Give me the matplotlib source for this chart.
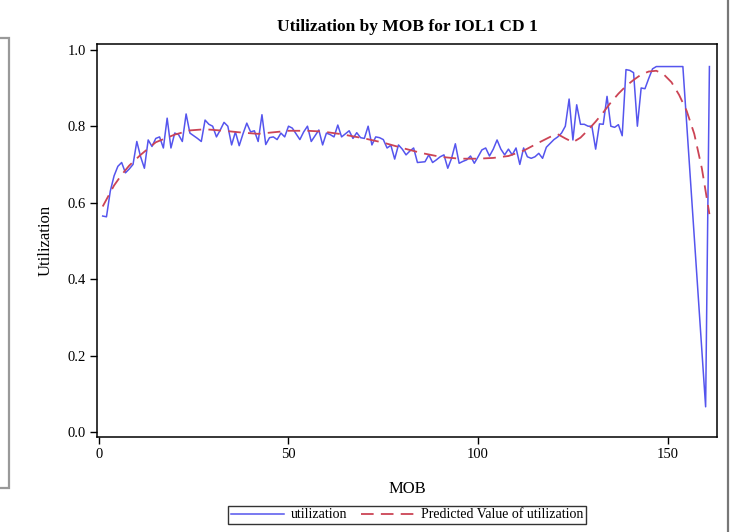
import matplotlib
matplotlib.use("Agg")
import matplotlib.pyplot as plt
from matplotlib.patches import Rectangle
from matplotlib.lines import Line2D

# observed utilization by MOB
mob = list(range(1, 155)) + [160, 161]
utilization = [
    0.565, 0.563, 0.63, 0.67, 0.695, 0.705, 0.678, 0.688, 0.70, 0.76,
    0.72, 0.69, 0.764, 0.747, 0.768, 0.772, 0.743, 0.821, 0.743, 0.782,
    0.778, 0.76, 0.832, 0.782, 0.775, 0.768, 0.76, 0.816, 0.805, 0.80,
    0.772, 0.79, 0.81, 0.80, 0.751, 0.785, 0.749, 0.78, 0.808, 0.785,
    0.788, 0.76, 0.83, 0.752, 0.77, 0.772, 0.765, 0.782, 0.772, 0.80,
    0.795, 0.78, 0.765, 0.785, 0.80, 0.76, 0.775, 0.79, 0.751, 0.782,
    0.778, 0.772, 0.803, 0.772, 0.78, 0.788, 0.768, 0.783, 0.77, 0.768,
    0.80, 0.751, 0.772, 0.77, 0.765, 0.743, 0.75, 0.714, 0.751, 0.74,
    0.725, 0.735, 0.743, 0.705, 0.706, 0.707, 0.725, 0.705, 0.712, 0.72,
    0.725, 0.69, 0.716, 0.754, 0.703, 0.708, 0.712, 0.722, 0.703, 0.72,
    0.738, 0.743, 0.722, 0.74, 0.764, 0.74, 0.725, 0.74, 0.725, 0.743,
    0.70, 0.743, 0.72, 0.716, 0.72, 0.729, 0.716, 0.745, 0.755, 0.765,
    0.772, 0.782, 0.80, 0.871, 0.764, 0.856, 0.805, 0.805, 0.80, 0.80,
    0.74, 0.806, 0.805, 0.878, 0.80, 0.797, 0.804, 0.775, 0.948, 0.946,
    0.94, 0.80, 0.90, 0.898, 0.925, 0.95, 0.956, 0.956, 0.956, 0.956,
    0.956, 0.956, 0.956, 0.956,
    0.066, 0.956,
]

# predicted (fitted) utilization
pred_mob = [1, 4, 6, 8, 11, 15, 20, 24, 28, 33, 38, 42, 46, 50, 55, 59, 64,
            70, 75, 80, 85, 90, 95, 100, 104, 108, 112, 116, 119, 121, 123,
            125, 127, 129, 131, 133, 135, 137, 139, 141, 143, 145, 147, 149,
            151, 153, 155, 157, 159, 161]
predicted = [0.59, 0.645, 0.673, 0.697, 0.725, 0.758, 0.778, 0.789, 0.792,
             0.788, 0.783, 0.780, 0.784, 0.788, 0.788, 0.786, 0.779, 0.768,
             0.757, 0.743, 0.730, 0.720, 0.715, 0.715, 0.717, 0.722, 0.736,
             0.757, 0.772, 0.779, 0.768, 0.758, 0.77, 0.79, 0.812, 0.836,
             0.862, 0.885, 0.905, 0.921, 0.935, 0.943, 0.945, 0.935, 0.915,
             0.882, 0.84, 0.78, 0.69, 0.57]

x_ticks = [0, 50, 100, 150]
y_ticks = [0.0, 0.2, 0.4, 0.6, 0.8, 1.0]

plt.rcParams['font.family'] = ['Liberation Serif', 'DejaVu Serif']

fig = plt.figure(figsize=(7.34, 5.32), dpi=100)
ax = fig.add_axes([97 / 734, 1 - 437 / 532, 620 / 734, 393 / 532])

blue = '#5555ee'
red = '#cc4455'
ax.plot(mob, utilization, color=blue, lw=1.1)
ax.plot(pred_mob, predicted, color=red, lw=1.3, ls=(0, (7, 4)))

ax.set_xlim(-0.5, 163)
ax.set_ylim(-0.013, 1.015)
ax.set_xticks(x_ticks)
ax.set_yticks(y_ticks)
ax.set_yticklabels(['%.1f' % v for v in y_ticks])
ax.tick_params(direction='out', length=5, width=1, labelsize=10.5, pad=3)
for s in ax.spines.values():
    s.set_linewidth(1.1)

ax.set_title('Utilization by MOB for IOL1 CD 1', fontsize=12.5,
             fontweight='bold', pad=9)
ax.set_xlabel('MOB', fontsize=12, labelpad=14)
ax.set_ylabel('Utilization', fontsize=12, labelpad=10)

handles = [Line2D([], [], color=blue, lw=1.1),
           Line2D([], [], color=red, lw=1.3, ls=(0, (7, 4)))]
leg = fig.legend(handles, ['utilization', 'Predicted Value of utilization'],
                 loc='center', bbox_to_anchor=(407 / 734, 1 - 515 / 532),
                 ncol=2, fontsize=10, frameon=True, fancybox=False,
                 handlelength=3.8, columnspacing=1.0, borderpad=0.2,
                 handletextpad=0.5)
leg.get_frame().set_edgecolor('black')
leg.get_frame().set_linewidth(1)

# page decorations: left box and right rule
fig.patches.append(Rectangle((-2 / 734, 1 - 488 / 532), 11 / 734, 450 / 532,
                             transform=fig.transFigure, fill=False,
                             edgecolor='#999999', lw=1.6))
fig.add_artist(Line2D([728 / 734, 728 / 734], [0, 1],
                      transform=fig.transFigure, color='#777777', lw=1.6))

fig.savefig('out.png', dpi=100)
